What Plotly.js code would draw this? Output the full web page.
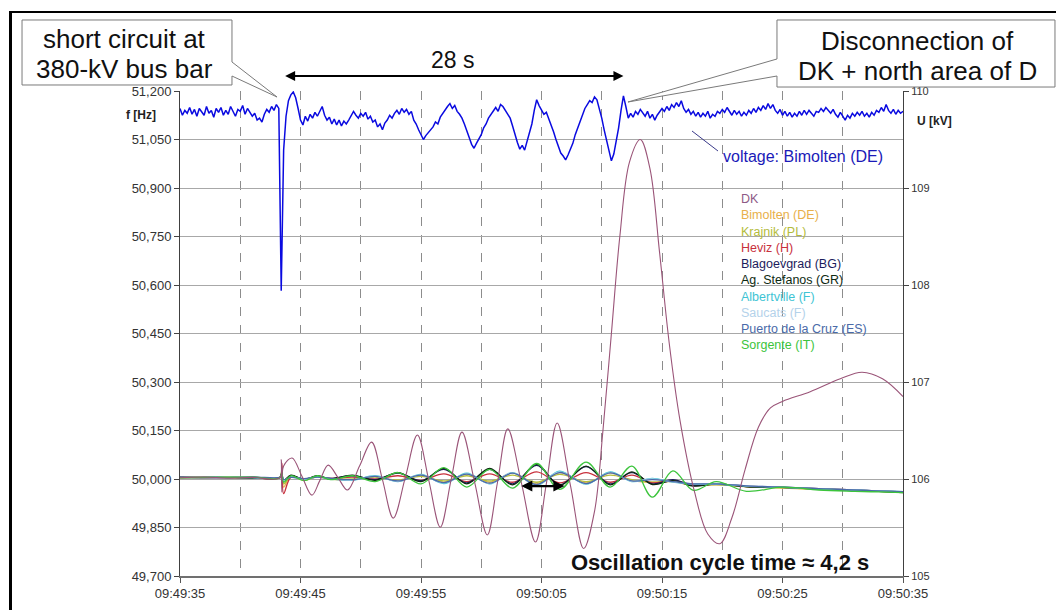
<!DOCTYPE html>
<html>
<head>
<meta charset="utf-8">
<script src="https://cdn.plot.ly/plotly-3.0.1.min.js"></script>
<style>
  html, body { margin: 0; padding: 0; background: #fff; }
  #wrap { position: relative; width: 1056px; height: 610px; }
  #chart { position: absolute; left: 0; top: 0; width: 1056px; height: 610px; }
  #frame { position: absolute; left: 9px; top: 11px; right: 0; bottom: 0;
           border-left: 3px solid #000; border-top: 2px solid #000; pointer-events: none; }
</style>
</head>
<body>
<div id="wrap"><div id="chart"></div><div id="frame"></div></div>
<script>
// ---------- data ----------
const tickLabels = ['09:49:35', '09:49:45', '09:49:55', '09:50:05', '09:50:15', '09:50:25', '09:50:35'];

const seriesNames = ['DK', 'Bimolten (DE)', 'Krajnik (PL)', 'Heviz (H)', 'Blagoevgrad (BG)',
  'Ag. Stefanos (GR)', 'Albertville (F)', 'Saucats (F)', 'Puerto de la Cruz (ES)', 'Sorgente (IT)'];
const seriesColors = ['#8e5a86', '#e8b04a', '#b4bc3c', '#c8303c', '#1c1c5c',
  '#0e2a12', '#3ec4d4', '#b4d2ea', '#4a6aa8', '#3cc43c'];

// seconds after 09:49:35
const tDK = [0, 2, 4, 6, 8.3, 8.4, 8.45, 8.6, 9.3, 10.1, 10.95, 11.6, 12.3, 13.1, 13.9, 14.9,
  15.9, 16.8, 17.7, 18.7, 19.7, 20.65, 21.6, 22.5, 23.4, 24.45, 25.5, 26.35, 27.2, 28.35, 29.5, 30.4,
  31.3, 32.4, 33.5, 34.4, 35.1, 35.8, 36.5, 37.3, 38.2, 39.0, 39.8, 40.6, 41.5, 42.7, 43.8, 44.8,
  45.8, 46.9, 48.0, 49.0, 50.0, 52.3, 54.8, 56.6, 58.3, 60];
const fDK = [50.004, 50.006, 50.003, 50.005, 50.004, 50.060, 49.960, 50.040, 50.065, 50.010, 49.950, 49.995, 50.043, 50.005, 49.966, 50.040,
  50.114, 49.998, 49.879, 50.005, 50.136, 49.995, 49.851, 49.998, 50.145, 49.990, 49.827, 49.990, 50.155, 49.985, 49.805, 49.985,
  50.173, 49.980, 49.785, 49.900, 50.150, 50.450, 50.750, 50.980, 51.050, 50.960, 50.700, 50.420, 50.180, 49.960, 49.830, 49.800,
  49.880, 50.030, 50.160, 50.220, 50.240, 50.270, 50.310, 50.330, 50.310, 50.255];

const tF = [0, 3, 6, 8.3, 8.45, 8.6, 9.2, 10.3, 11.4, 12.5, 14.3, 16.2, 18.1, 20.0, 21.9, 23.8,
  25.7, 27.6, 29.6, 31.5, 33.7, 35.7, 37.5, 39.2, 40.9, 42.6, 44.5, 47, 50, 53, 56, 58, 60];
const fBimolten = [50.005, 50.007, 50.004, 50.006, 50.040, 49.975, 50.010, 49.996, 50.008, 50.000, 49.998, 50.008, 49.994, 50.012, 49.990, 50.015,
  49.990, 50.018, 49.985, 50.020, 49.988, 50.018, 49.995, 49.990, 49.992, 49.980, 49.982, 49.976, 49.972, 49.968, 49.964, 49.962, 49.959];
const fKrajnik = [50.003, 50.005, 50.004, 50.005, 50.025, 49.985, 50.006, 49.998, 50.006, 50.001, 50.000, 50.006, 49.997, 50.008, 49.994, 50.010,
  49.994, 50.012, 49.990, 50.014, 49.992, 50.012, 49.998, 49.990, 49.994, 49.982, 49.983, 49.977, 49.973, 49.969, 49.965, 49.962, 49.960];
const fHeviz = [50.006, 50.004, 50.005, 50.005, 50.050, 49.955, 50.005, 50.000, 50.006, 50.002, 50.006, 50.000, 50.010, 49.996, 50.016, 49.992,
  50.016, 49.990, 50.022, 49.988, 50.020, 49.990, 50.012, 49.988, 49.996, 49.982, 49.984, 49.978, 49.974, 49.970, 49.966, 49.963, 49.960];
const fBlagoevgrad = [50.006, 50.004, 50.006, 50.005, 50.020, 49.995, 50.010, 50.000, 50.008, 50.002, 50.010, 49.998, 50.018, 49.995, 50.030, 49.988,
  50.030, 49.985, 50.042, 49.982, 50.038, 49.985, 50.020, 49.985, 49.998, 49.980, 49.985, 49.978, 49.975, 49.970, 49.966, 49.963, 49.960];
const fStefanos = [50.004, 50.006, 50.003, 50.004, 50.015, 49.995, 50.012, 49.998, 50.010, 50.000, 50.012, 49.996, 50.020, 49.992, 50.033, 49.985,
  50.033, 49.982, 50.045, 49.980, 50.040, 49.982, 50.022, 49.983, 49.995, 49.978, 49.984, 49.976, 49.974, 49.969, 49.965, 49.962, 49.958];
const fAlbertville = [50.005, 50.006, 50.004, 50.005, 50.015, 49.995, 50.006, 49.999, 50.007, 50.000, 49.996, 50.010, 49.992, 50.014, 49.986, 50.018,
  49.985, 50.020, 49.980, 50.024, 49.984, 50.022, 49.992, 50.002, 49.990, 49.984, 49.984, 49.978, 49.974, 49.969, 49.966, 49.963, 49.961];
const fSaucats = [50.004, 50.005, 50.005, 50.004, 50.012, 49.996, 50.006, 50.000, 50.006, 50.001, 49.997, 50.009, 49.993, 50.013, 49.988, 50.016,
  49.986, 50.019, 49.982, 50.022, 49.985, 50.020, 49.993, 50.000, 49.991, 49.985, 49.985, 49.979, 49.975, 49.970, 49.966, 49.963, 49.961];
const fPuerto = [50.005, 50.004, 50.006, 50.005, 50.010, 49.998, 50.005, 50.001, 50.006, 50.002, 49.998, 50.008, 49.994, 50.012, 49.989, 50.015,
  49.987, 50.018, 49.983, 50.020, 49.986, 50.019, 49.994, 49.998, 49.992, 49.985, 49.985, 49.979, 49.975, 49.970, 49.966, 49.963, 49.961];
const fSorgente = [50.004, 50.005, 50.006, 50.004, 50.030, 49.990, 50.010, 49.995, 50.010, 49.998, 50.010, 49.992, 50.020, 49.985, 50.035, 49.975,
  50.030, 49.972, 50.048, 49.968, 50.052, 49.975, 50.040, 49.944, 50.025, 49.965, 49.992, 49.962, 49.975, 49.966, 49.962, 49.960, 49.958];

// voltage Bimolten (DE) in kV, one sample every 0.2 s from 09:49:35 (one line = two seconds)
const voltageStep = 0.2;
const voltageKV = [
  109.82, 109.75, 109.80, 109.77, 109.83,  109.76, 109.81, 109.74, 109.82, 109.79,
  109.75, 109.84, 109.77, 109.80, 109.73,  109.82, 109.78, 109.83, 109.75, 109.80,
  109.76, 109.84, 109.78, 109.74, 109.81,  109.79, 109.85, 109.76, 109.82, 109.78,
  109.74, 109.77, 109.70, 109.72, 109.68,  109.76, 109.81, 109.78, 109.84, 109.80,
  109.86, 109.82, 107.94, 109.39, 109.74,  109.90, 109.96, 109.99, 109.93, 109.82,
  109.70, 109.65, 109.74, 109.69, 109.76,  109.72, 109.78, 109.74, 109.80, 109.84,
  109.75, 109.70, 109.73, 109.66, 109.71,  109.65, 109.70, 109.64, 109.69, 109.66,
  109.70, 109.74, 109.79, 109.75, 109.72,  109.77, 109.74, 109.78, 109.71, 109.74,
  109.68, 109.70, 109.63, 109.66, 109.60,  109.67, 109.70, 109.75, 109.72, 109.77,
  109.80, 109.76, 109.82, 109.78, 109.81,  109.76, 109.79, 109.70, 109.66, 109.60,
  109.55, 109.50, 109.54, 109.57, 109.60,  109.63, 109.68, 109.66, 109.73, 109.77,
  109.80, 109.84, 109.87, 109.82, 109.85,  109.79, 109.76, 109.72, 109.66, 109.60,
  109.52, 109.45, 109.41, 109.46, 109.50,  109.55, 109.62, 109.66, 109.72, 109.76,
  109.80, 109.83, 109.79, 109.86, 109.84,  109.80, 109.76, 109.72, 109.64, 109.55,
  109.47, 109.40, 109.44, 109.39, 109.48,  109.55, 109.66, 109.80, 109.91, 109.85,
  109.80, 109.76, 109.78, 109.72, 109.66,  109.58, 109.50, 109.42, 109.36, 109.33,
  109.29, 109.34, 109.40, 109.46, 109.55,  109.62, 109.70, 109.76, 109.82, 109.86,
  109.90, 109.88, 109.94, 109.91, 109.82,  109.72, 109.60, 109.50, 109.38, 109.28,
  109.35, 109.48, 109.62, 109.80, 109.95,  109.84, 109.72, 109.77, 109.73, 109.79,
  109.76, 109.81, 109.77, 109.74, 109.79,  109.72, 109.76, 109.70, 109.75, 109.78,
  109.82, 109.79, 109.84, 109.80, 109.86,  109.83, 109.88, 109.84, 109.90, 109.82,
  109.78, 109.81, 109.76, 109.79, 109.74,  109.78, 109.73, 109.77, 109.74, 109.79,
  109.72, 109.76, 109.74, 109.79, 109.77,  109.81, 109.78, 109.83, 109.79, 109.75,
  109.80, 109.76, 109.79, 109.74, 109.78,  109.75, 109.80, 109.77, 109.82, 109.78,
  109.83, 109.80, 109.85, 109.81, 109.87,  109.82, 109.86, 109.80, 109.77, 109.81,
  109.75, 109.79, 109.74, 109.78, 109.73,  109.77, 109.74, 109.79, 109.75, 109.80,
  109.76, 109.80, 109.77, 109.74, 109.79,  109.78, 109.82, 109.79, 109.83, 109.80,
  109.77, 109.81, 109.76, 109.73, 109.78,  109.74, 109.70, 109.75, 109.72, 109.77,
  109.74, 109.78, 109.75, 109.79, 109.74,  109.77, 109.73, 109.78, 109.75, 109.80,
  109.78, 109.83, 109.79, 109.86, 109.80,  109.77, 109.81, 109.76, 109.80, 109.77,
  109.79
];

// ---------- helpers ----------
const startSec = 9 * 3600 + 49 * 60 + 35;
const pad = (n, w) => String(n).padStart(w, '0');
function toDate(s) {
  const ms = Math.round((startSec + s) * 1000);
  const h = Math.floor(ms / 3600000);
  const m = Math.floor((ms % 3600000) / 60000);
  const sec = (ms % 60000) / 1000;
  return '2000-01-01 ' + pad(h, 2) + ':' + pad(m, 2) + ':' + sec.toFixed(3).padStart(6, '0');
}
// pixel -> paper helpers for decorations outside the plot area
const L = 180, R = 903, T = 91, B = 576;
const px = x => (x - L) / (R - L);
const py = y => (B - y) / (B - T);
const P = (x, y) => px(x).toFixed(4) + ',' + py(y).toFixed(4);

const smallSeries = [fBimolten, fKrajnik, fHeviz, fBlagoevgrad, fStefanos, fAlbertville, fSaucats, fPuerto, fSorgente];
const xF = tF.map(toDate);
const traces = smallSeries.map((vals, i) => ({
  x: xF, y: vals, type: 'scatter', mode: 'lines', name: seriesNames[i + 1],
  line: { color: seriesColors[i + 1], width: 1.3, shape: 'spline' }, showlegend: false, hoverinfo: 'skip'
}));
traces.push({
  x: tDK.map(toDate), y: fDK, type: 'scatter', mode: 'lines', name: 'DK',
  line: { color: '#9a5478', width: 1.1, shape: 'spline' }, showlegend: false
});
traces.push({
  x: voltageKV.map((v, i) => toDate(i * voltageStep)), y: voltageKV, yaxis: 'y2',
  type: 'scatter', mode: 'lines', name: 'voltage: Bimolten (DE)',
  line: { color: '#0a0ae0', width: 1.5 }, showlegend: false
});

const font = 'Liberation Sans, Arial, sans-serif';
const legendText = seriesNames.map((n, i) => `<span style="color:${seriesColors[i]}">${n}</span>`).join('<br>');
const txt = (x, y, text, size, color, extra) => Object.assign({
  xref: 'paper', yref: 'paper', x: px(x), y: py(y), text, showarrow: false,
  xanchor: 'center', yanchor: 'middle', font: { size, color, family: font }
}, extra || {});

const layout = {
  width: 1056, height: 610,
  margin: { l: L, r: 1056 - R, t: T, b: 610 - B },
  paper_bgcolor: '#fff', plot_bgcolor: '#fff',
  separators: ',.',
  font: { family: font, color: '#333', size: 12 },
  showlegend: false,
  xaxis: {
    type: 'date', range: [toDate(0), toDate(60)],
    tickmode: 'array', tickvals: tickLabels.map(l => '2000-01-01 ' + l), ticktext: tickLabels,
    showgrid: true, gridcolor: '#8c8c8c', griddash: 'dash', gridwidth: 1,
    minor: { dtick: 5000, tick0: toDate(0), showgrid: true, gridcolor: '#8c8c8c', griddash: 'dash', gridwidth: 1, ticks: '' },
    showline: true, linecolor: '#707070', linewidth: 1.5,
    ticks: 'outside', ticklen: 5, tickcolor: '#555',
    tickfont: { size: 13, color: '#333' }, zeroline: false
  },
  yaxis: {
    range: [49.7, 51.2], tick0: 49.7, dtick: 0.15, tickformat: '.3f',
    showgrid: true, gridcolor: '#a8a8a8', gridwidth: 1,
    showline: true, linecolor: '#404040', linewidth: 1,
    ticks: 'outside', ticklen: 5, tickcolor: '#444',
    tickfont: { size: 13, color: '#333' }, zeroline: false
  },
  yaxis2: {
    range: [105, 110], dtick: 1, overlaying: 'y', side: 'right',
    showgrid: false, showline: true, linecolor: '#404040', linewidth: 1,
    ticks: 'outside', ticklen: 5, tickcolor: '#444',
    tickfont: { size: 11, color: '#333' }, zeroline: false
  },
  shapes: [
    { type: 'path', xref: 'paper', yref: 'paper', layer: 'above',
      path: `M ${P(22, 20)} L ${P(232, 20)} L ${P(232, 62)} L ${P(277, 97)} L ${P(232, 76)} L ${P(232, 85)} L ${P(22, 85)} Z`,
      fillcolor: '#fff', line: { color: '#7a7a7a', width: 1 } },
    { type: 'path', xref: 'paper', yref: 'paper', layer: 'above',
      path: `M ${P(777, 20)} L ${P(1055, 20)} L ${P(1055, 87)} L ${P(777, 87)} L ${P(777, 76)} L ${P(628, 102)} L ${P(777, 59)} Z`,
      fillcolor: '#fff', line: { color: '#7a7a7a', width: 1 } },
    { type: 'line', xref: 'paper', yref: 'paper', x0: px(692), y0: py(131), x1: px(718), y1: py(151),
      line: { color: '#3a3a8a', width: 1 } }
  ],
  annotations: [
    txt(124, 39, 'short circuit at', 26, '#111'),
    txt(124, 69, '380-kV bus bar', 26, '#111'),
    txt(917, 41, 'Disconnection of', 26, '#111'),
    txt(917, 71, 'DK + north area of D', 26, '#111'),
    txt(452, 60, '28 s', 23, '#111'),
    { xref: 'x', yref: 'paper', x: toDate(36.8), y: py(76), axref: 'x', ax: toDate(8.6), ayref: 'pixel', ay: 0,
      text: '', showarrow: true, arrowhead: 2, arrowside: 'end+start', arrowsize: 1, arrowwidth: 2, arrowcolor: '#000' },
    txt(721, 156, 'voltage: Bimolten (DE)', 16, '#1a1ab8', { xanchor: 'left' }),
    txt(739, 190, legendText, 12.5, '#333', { xanchor: 'left', yanchor: 'top', align: 'left' }),
    txt(720, 562, '<b>Oscillation cycle time ≈ 4,2 s</b>', 22, '#111'),
    { xref: 'x', yref: 'y', x: toDate(31.9), y: 49.978, axref: 'x', ax: toDate(28.2), ayref: 'y', ay: 49.978,
      text: '', showarrow: true, arrowhead: 2, arrowside: 'end+start', arrowsize: 1, arrowwidth: 2.2, arrowcolor: '#000' },
    txt(141, 115, '<b>f [Hz]</b>', 12, '#222'),
    txt(934, 121, '<b>U [kV]</b>', 12, '#222')
  ]
};

Plotly.newPlot('chart', traces, layout, { staticPlot: true, displayModeBar: false });
</script>
</body>
</html>
